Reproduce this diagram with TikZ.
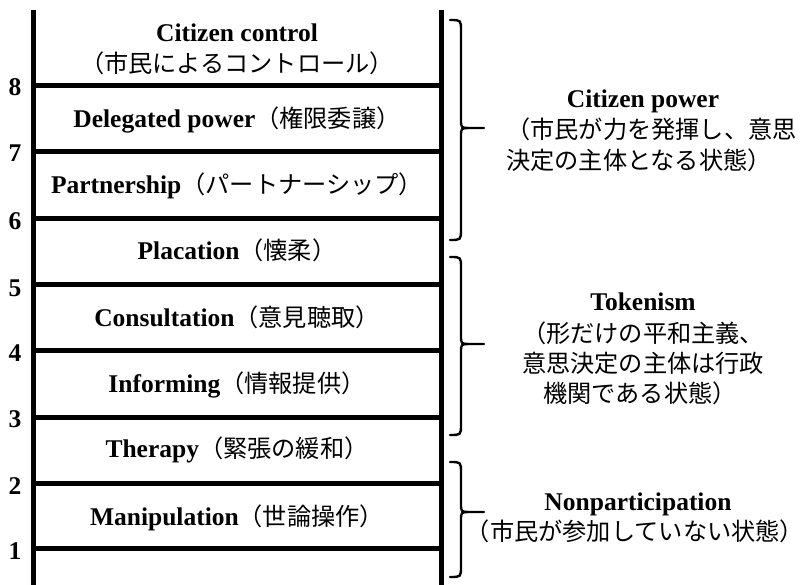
\documentclass[tikz,border=0pt]{standalone}
\usepackage{fontspec}
\setmainfont{Liberation Serif}
\newfontfamily\jpfont{Noto Sans CJK JP}
\newcommand\jptext[1]{{\jpfont\mdseries\fontsize{24.2}{30}\selectfont #1}}
\begin{document}
\begin{tikzpicture}[x=1pt,y=-1pt,
  bar/.style={line width=5pt},
  rung/.style={line width=5pt},
  lab/.style={anchor=base,inner sep=0pt,font=\fontsize{25.5}{30}\selectfont\bfseries},
  num/.style={anchor=base,inner sep=0pt,font=\fontsize{25.5}{30}\selectfont\bfseries},
  jp/.style={anchor=base,inner sep=0pt,font=\fontsize{24.2}{30}\selectfont\jpfont},
  brc/.style={line width=2.4pt,line join=round,line cap=round}]
\useasboundingbox (0,0) rectangle (808,585);
% ladder rails
\coordinate (lt) at (33,10); \coordinate (lb) at (33,585);
\coordinate (rt) at (441,10); \coordinate (rb) at (441,585);
\draw[bar] (lt) -- (lb);
\draw[bar] (rt) -- (rb);
% rungs
\foreach \y/\n in {86/8,152/7,219/6,284/5,350/4,417/3,483/2,548/1}{
  \draw[rung] (33,\y) -- (441,\y);
}
% numbers
\node[num] (n8) at (15,96) {8};
\node[num] (n7) at (15,162) {7};
\node[num] (n6) at (15,230) {6};
\node[num] (n5) at (15,296) {5};
\node[num] (n4) at (15,361) {4};
\node[num] (n3) at (15,427) {3};
\node[num] (n2) at (15,494) {2};
\node[num] (n1) at (15,559) {1};
% rung labels
\node[lab] (l8a) at (237,42) {Citizen control};
\node[jp] (l8b) at (237,73) {（市民によるコントロール）};
\node[lab] (l7) at (237,128) {Delegated power\jptext{（権限委譲）}};
\node[lab] (l6) at (237,194) {Partnership\jptext{（パートナーシップ）}};
\node[lab] (l5) at (237,260) {Placation\jptext{（懐柔）}};
\node[lab] (l4) at (237,326) {Consultation\jptext{（意見聴取）}};
\node[lab] (l3) at (237,392) {Informing\jptext{（情報提供）}};
\node[lab] (l2) at (237,457) {Therapy\jptext{（緊張の緩和）}};
\node[lab] (l1) at (237,525) {Manipulation\jptext{（世論操作）}};
% braces
\foreach \ya/\ym/\yb in {20/128/240, 257/344/435, 462/512/577}{
  \draw[brc] (450,\ya) .. controls (461,\ya) .. (461,\ya+11) -- (461,\ym-9)
    .. controls (461,\ym) .. (469,\ym) -- (484,\ym);
  \draw[brc] (469,\ym) .. controls (461,\ym) .. (461,\ym+9) -- (461,\yb-11)
    .. controls (461,\yb) .. (450,\yb);
}
% group labels
\node[lab] (cp) at (643,108) {Citizen power};
\node[jp,anchor=base west] (cp1) at (506,139) {（市民が力を発揮し、意思};
\node[jp,anchor=base west] (cp2) at (506,170) {決定の主体となる状態）};
\node[lab] (tk) at (643,310) {Tokenism};
\node[jp] (tk1) at (643,342) {（形だけの平和主義、};
\node[jp] (tk2) at (643,372) {意思決定の主体は行政};
\node[jp] (tk3) at (640,402) {機関である状態）};
\node[lab] (np) at (638,510) {Nonparticipation};
\node[jp] (np1) at (635,540) {（市民が参加していない状態）};
\end{tikzpicture}
\end{document}
